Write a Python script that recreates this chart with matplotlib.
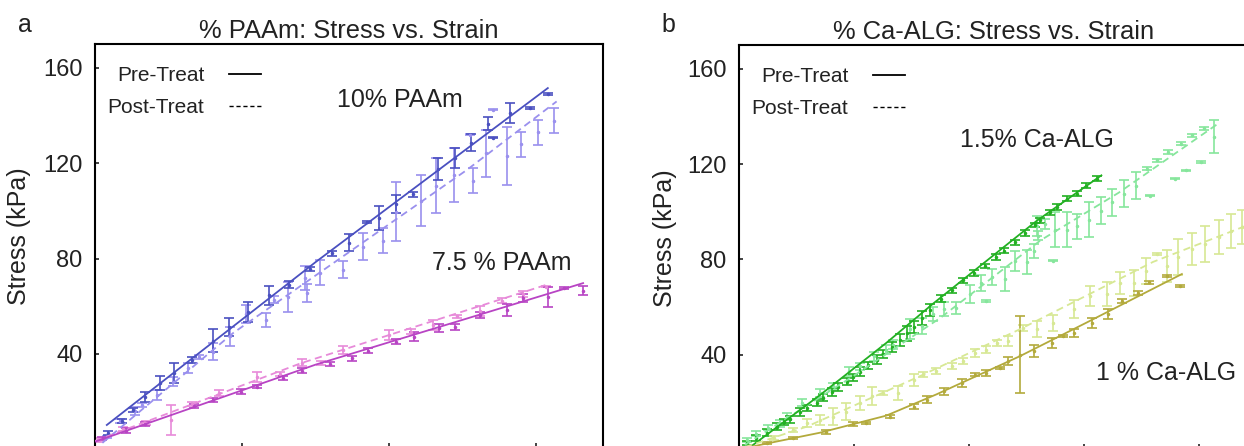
import matplotlib
matplotlib.use("Agg")
import matplotlib.pyplot as plt
from matplotlib.lines import Line2D

plt.rcParams['font.family'] = ['Liberation Sans', 'DejaVu Sans']

# ---- panel a : % PAAm ----
paam10_pre_x = [0.009, 0.018, 0.026, 0.034, 0.044, 0.054, 0.066, 0.080, 0.091, 0.104, 0.118, 0.132, 0.146,
                0.161, 0.173, 0.185, 0.193, 0.205, 0.216, 0.233, 0.245, 0.256, 0.267, 0.271, 0.282, 0.296, 0.308]
paam10_pre_y = [6.7, 11.9, 16.5, 22.1, 27.8, 31.9, 37.5, 45.6, 51.2, 57.6, 64.6, 69.0, 75.6,
                82.2, 86.6, 95.4, 97.0, 103.0, 107.0, 117.6, 122.2, 128.6, 136.6, 130.7, 141.0, 143.2, 149.0]
paam10_pre_e = [0.8, 0.8, 1.0, 2.1, 2.9, 4.2, 1.4, 5.0, 3.8, 4.1, 4.0, 1.4, 1.0,
                1.0, 3.5, 0.5, 4.9, 3.8, 1.0, 4.6, 4.2, 3.5, 2.7, 0.3, 4.3, 0.3, 0.3]
paam10_pre_fit_x = [0.008, 0.150, 0.308]
paam10_pre_fit_y = [10.2, 78.5, 151.5]

paam10_post_x = [0.008, 0.017, 0.027, 0.032, 0.042, 0.053, 0.063, 0.071, 0.080, 0.092, 0.103, 0.116, 0.122,
                 0.131, 0.143, 0.144, 0.153, 0.169, 0.182, 0.196, 0.205, 0.222, 0.232, 0.244, 0.257, 0.266,
                 0.280, 0.290, 0.301, 0.312, 0.271, 0.255]
paam10_post_y = [5.2, 12.0, 16.2, 18.6, 22.8, 28.4, 34.1, 38.7, 41.0, 47.5, 56.8, 54.3, 62.7,
                 64.0, 71.9, 65.7, 74.0, 75.3, 85.0, 87.5, 99.7, 104.3, 110.6, 115.1, 112.7, 124.2,
                 123.0, 128.0, 133.0, 137.9, 142.4, 132.0]
paam10_post_e = [0.5, 0.8, 1.7, 1.0, 2.1, 2.0, 2.0, 1.0, 3.5, 4.0, 3.9, 2.8, 1.5,
                 6.3, 4.9, 3.8, 5.2, 3.5, 5.6, 5.2, 12.5, 10.8, 11.5, 11.2, 5.2, 9.8,
                 12.0, 5.2, 5.2, 5.2, 0.3, 0.3]
paam10_post_fit_x = [0.005, 0.094, 0.253, 0.314]
paam10_post_fit_y = [2.7, 48.8, 117.2, 145.9]

paam75_pre_x = [0.0045, 0.021, 0.034, 0.067, 0.080, 0.099, 0.110, 0.128, 0.141, 0.160, 0.175, 0.186, 0.205,
                0.217, 0.234, 0.245, 0.262, 0.280, 0.291, 0.308, 0.319, 0.332]
paam75_pre_y = [4.6, 7.8, 10.6, 18.2, 20.7, 24.2, 26.3, 29.8, 33.0, 35.8, 38.2, 41.4, 45.2,
                47.3, 50.8, 51.2, 56.4, 58.5, 63.4, 64.0, 67.6, 66.6]
paam75_pre_e = [0.5, 1.0, 0.8, 1.0, 0.8, 1.0, 0.6, 0.8, 1.2, 0.8, 1.0, 1.0, 1.2,
                1.7, 1.7, 1.2, 1.3, 2.5, 1.7, 4.2, 0.3, 1.7]
paam75_pre_fit_x = [0.0, 0.150, 0.332]
paam75_pre_fit_y = [3.2, 35.5, 69.7]

paam75_post_x = [0.003, 0.019, 0.035, 0.052, 0.066, 0.084, 0.110, 0.126, 0.141, 0.154, 0.169, 0.200, 0.215,
                 0.230, 0.246, 0.262, 0.277, 0.291, 0.307]
paam75_post_y = [3.9, 8.5, 10.9, 12.3, 19.0, 23.5, 30.5, 31.6, 36.4, 36.1, 41.7, 48.0, 49.4,
                 52.2, 55.7, 57.8, 62.4, 65.2, 68.2]
paam75_post_e = [0.8, 0.8, 0.8, 6.3, 1.0, 1.2, 2.1, 0.8, 1.3, 0.8, 1.7, 2.1, 1.2,
                 2.1, 0.5, 2.1, 1.2, 1.3, 0.3]
paam75_post_fit_x = [0.0, 0.140, 0.307]
paam75_post_fit_y = [3.5, 36.1, 69.0]

# ---- panel b : % Ca-ALG ----
alg15_pre_x = [0.007, 0.015, 0.024, 0.033, 0.039, 0.044, 0.053, 0.059, 0.068, 0.073, 0.081, 0.086, 0.094,
               0.099, 0.105, 0.112, 0.120, 0.125, 0.133, 0.140, 0.146, 0.152, 0.159, 0.166, 0.176, 0.185,
               0.195, 0.204, 0.214, 0.223, 0.230, 0.240, 0.249, 0.257, 0.262, 0.270, 0.276, 0.285, 0.294,
               0.302, 0.311]
alg15_pre_y = [3.0, 5.2, 7.4, 9.8, 11.8, 13.0, 16.0, 17.6, 20.0, 22.0, 24.4, 26.5, 28.8,
               30.5, 33.0, 35.6, 38.0, 40.4, 43.2, 46.2, 49.0, 51.8, 55.5, 58.8, 63.5, 67.0,
               71.2, 74.3, 77.3, 80.9, 83.7, 87.2, 91.0, 94.5, 96.5, 99.8, 102.0, 105.5, 107.6,
               111.0, 113.9]
alg15_pre_e = [1.0, 1.2, 1.5, 1.5, 1.2, 1.5, 1.5, 1.2, 1.5, 1.5, 1.5, 1.8, 1.5,
               1.5, 1.8, 1.5, 2.0, 1.8, 2.0, 2.5, 3.0, 2.5, 3.0, 2.5, 1.5, 1.2,
               1.2, 1.2, 1.0, 1.2, 1.0, 1.0, 1.2, 1.0, 1.0, 1.0, 1.2, 1.0, 1.0,
               1.0, 1.0]
alg15_pre_fit_x = [0.006, 0.070, 0.128, 0.169, 0.227, 0.259, 0.315]
alg15_pre_fit_y = [0.0, 23.0, 45.0, 61.6, 84.0, 96.3, 115.3]

alg15_post_x = [0.007, 0.015, 0.025, 0.036, 0.042, 0.055, 0.070, 0.082, 0.096, 0.105, 0.117, 0.128, 0.134,
                0.149, 0.159, 0.169, 0.178, 0.189, 0.201, 0.210, 0.215, 0.220, 0.231, 0.240, 0.250, 0.256,
                0.260, 0.273, 0.259, 0.266, 0.275, 0.285, 0.294, 0.304, 0.315, 0.324, 0.335, 0.345,
                0.355, 0.363, 0.373, 0.384, 0.394, 0.404, 0.413, 0.357, 0.379, 0.389, 0.402]
alg15_post_y = [4.3, 7.0, 9.5, 11.3, 14.1, 20.0, 24.0, 26.8, 33.1, 35.2, 39.4, 42.2, 44.3,
                50.7, 52.0, 57.0, 59.1, 59.8, 65.4, 70.3, 62.6, 72.5, 71.7, 79.5, 78.8, 83.7,
                90.0, 79.5, 94.1, 94.9, 92.5, 92.5, 93.9, 96.7, 100.5, 104.0, 107.6, 111.0,
                118.1, 121.6, 125.1, 128.6, 132.1, 135.0, 131.5, 106.8, 113.9, 117.4, 120.9]
alg15_post_e = [1.0, 1.2, 1.2, 1.5, 1.5, 1.5, 1.5, 1.5, 1.8, 1.5, 2.0, 2.0, 2.0,
                4.2, 3.4, 3.0, 3.0, 2.5, 3.8, 3.4, 0.3, 3.4, 5.0, 4.2, 5.0, 3.0,
                2.0, 0.3, 4.3, 2.1, 7.3, 7.3, 5.3, 7.4, 5.6, 5.6, 5.6, 5.6,
                0.6, 0.7, 0.7, 0.7, 0.7, 0.7, 7.0, 0.3, 0.3, 0.3, 0.3]
alg15_post_fit_x = [0.005, 0.099, 0.175, 0.262, 0.330, 0.415]
alg15_post_fit_y = [2.2, 31.0, 55.5, 88.0, 108.0, 136.5]

alg1_pre_x = [0.024, 0.047, 0.076, 0.099, 0.110, 0.131, 0.152, 0.163, 0.178, 0.194, 0.205, 0.215, 0.227,
              0.234, 0.244, 0.256, 0.272, 0.282, 0.291, 0.307, 0.321, 0.333, 0.347, 0.356, 0.372, 0.383]
alg1_pre_y = [2.9, 5.0, 7.8, 11.0, 11.3, 14.1, 18.3, 21.2, 24.7, 28.2, 31.7, 32.4, 34.5,
              37.3, 40.1, 41.5, 45.0, 47.8, 49.3, 53.5, 57.0, 62.6, 66.1, 70.4, 73.1, 68.9]
alg1_pre_e = [0.5, 0.5, 0.8, 1.0, 0.5, 0.8, 1.0, 1.5, 1.5, 1.5, 0.5, 1.3, 0.5,
              1.7, 16.0, 2.5, 2.1, 0.5, 1.7, 2.1, 2.1, 0.8, 0.8, 0.5, 0.5, 0.3]
alg1_pre_fit_x = [0.0, 0.018, 0.070, 0.128, 0.172, 0.244, 0.302, 0.385]
alg1_pre_fit_y = [0.3, 2.2, 7.3, 14.5, 23.5, 39.4, 53.5, 73.9]

alg1_post_x = [0.030, 0.047, 0.059, 0.070, 0.082, 0.093, 0.105, 0.116, 0.125, 0.138, 0.152, 0.160, 0.171,
               0.185, 0.195, 0.205, 0.215, 0.224, 0.234, 0.247, 0.259, 0.273, 0.291, 0.305, 0.320, 0.331,
               0.343, 0.354, 0.363, 0.372, 0.382, 0.394, 0.405, 0.417, 0.428, 0.437]
alg1_post_y = [5.1, 8.5, 11.3, 12.7, 14.1, 16.2, 19.8, 22.6, 24.0, 24.0, 29.6, 31.7, 33.1,
               35.2, 37.3, 40.8, 42.2, 45.0, 45.7, 51.4, 50.7, 53.5, 59.1, 64.7, 65.4, 70.3,
               70.3, 75.2, 82.3, 77.3, 80.9, 84.4, 86.5, 89.3, 92.1, 93.5]
alg1_post_e = [0.8, 1.0, 1.7, 2.1, 3.4, 3.4, 3.0, 3.8, 1.0, 3.0, 2.5, 1.0, 1.3,
               1.3, 1.3, 1.5, 1.5, 1.3, 2.1, 1.3, 3.4, 3.4, 3.8, 4.2, 5.0, 4.6,
               5.5, 5.5, 0.3, 6.7, 7.6, 6.7, 7.6, 7.1, 7.1, 7.1]
alg1_post_fit_x = [0.0, 0.059, 0.157, 0.244, 0.360, 0.440]
alg1_post_fit_y = [0.5, 9.9, 31.0, 50.7, 79.0, 94.0]

strain_ticks = [0.1, 0.2, 0.3, 0.4]
stress_ticks = [40, 80, 120, 160]

c_paam10_pre, c_paam10_post = '#4a50c0', '#9a90ee'
c_paam75_pre, c_paam75_post = '#b844c4', '#e78ad9'
c_alg15_pre, c_alg15_post = '#22b022', '#86e69c'
c_alg1_pre, c_alg1_post = '#b3aa3c', '#d7e894'

text_col = '#222222'


def series(ax, x, y, e, fx, fy, col, dashed):
    ax.errorbar(x, y, yerr=e, fmt='.', ms=3, color=col, ecolor=col,
                elinewidth=1.2, capsize=3.5, capthick=1.2, zorder=2)
    ls = (0, (4, 2.5)) if dashed else '-'
    ax.plot(fx, fy, color=col, lw=1.3, ls=ls, zorder=3)


def style(ax, title, xmax):
    ax.set_xticks([t for t in strain_ticks if t <= xmax])
    ax.set_yticks(stress_ticks)
    ax.set_xlim(0, xmax)
    ax.set_ylim(0, 170)
    ax.tick_params(axis='both', direction='in', length=3, width=1.2,
                   labelsize=17, colors=text_col, pad=9)
    ax.tick_params(axis='x', length=4.5, labelbottom=False)
    for s in ax.spines.values():
        s.set_linewidth(1.5)
        s.set_color('black')
    ax.set_title(title, fontsize=18.4, color=text_col, pad=4.5)
    ax.set_ylabel('Stress (kPa)', fontsize=18, color=text_col)
    handles = [Line2D([], [], color='black', lw=1.3),
               Line2D([], [], color='black', lw=1.0, ls=(0, (3, 2)))]
    ax.legend(handles, ['Pre-Treat', 'Post-Treat'], loc='upper left',
              bbox_to_anchor=(-0.004, 0.982), markerfirst=False, frameon=False,
              fontsize=15, handlelength=1.5, handletextpad=1.2,
              labelspacing=0.64, borderpad=0.2, labelcolor=text_col)


fig = plt.figure(figsize=(12.44, 4.46), dpi=100)
ax1 = fig.add_axes([0.0764, -0.0074, 0.4084, 0.9088])
ax2 = fig.add_axes([0.5941, -0.0094, 0.4084, 0.9086])

series(ax1, paam10_post_x, paam10_post_y, paam10_post_e, paam10_post_fit_x, paam10_post_fit_y, c_paam10_post, True)
series(ax1, paam10_pre_x, paam10_pre_y, paam10_pre_e, paam10_pre_fit_x, paam10_pre_fit_y, c_paam10_pre, False)
series(ax1, paam75_post_x, paam75_post_y, paam75_post_e, paam75_post_fit_x, paam75_post_fit_y, c_paam75_post, True)
series(ax1, paam75_pre_x, paam75_pre_y, paam75_pre_e, paam75_pre_fit_x, paam75_pre_fit_y, c_paam75_pre, False)
style(ax1, '% PAAm: Stress vs. Strain', 0.3456)
ax1.yaxis.set_label_coords(-0.126, 0.526)
ax1.text(0.600, 0.862, '10% PAAm', transform=ax1.transAxes, ha='center', va='center',
         fontsize=18, color=text_col)
ax1.text(0.801, 0.460, '7.5 % PAAm', transform=ax1.transAxes, ha='center', va='center',
         fontsize=18, color=text_col)

series(ax2, alg15_post_x, alg15_post_y, alg15_post_e, alg15_post_fit_x, alg15_post_fit_y, c_alg15_post, True)
series(ax2, alg15_pre_x, alg15_pre_y, alg15_pre_e, alg15_pre_fit_x, alg15_pre_fit_y, c_alg15_pre, False)
series(ax2, alg1_post_x, alg1_post_y, alg1_post_e, alg1_post_fit_x, alg1_post_fit_y, c_alg1_post, True)
series(ax2, alg1_pre_x, alg1_pre_y, alg1_pre_e, alg1_pre_fit_x, alg1_pre_fit_y, c_alg1_pre, False)
style(ax2, '% Ca-ALG: Stress vs. Strain', 0.4417)
ax2.yaxis.set_label_coords(-0.122, 0.524)
ax2.text(0.587, 0.766, '1.5% Ca-ALG', transform=ax2.transAxes, ha='center', va='center',
         fontsize=18, color=text_col)
ax2.text(0.841, 0.191, '1 % Ca-ALG', transform=ax2.transAxes, ha='center', va='center',
         fontsize=18, color=text_col)

fig.text(0.0145, 1 - 32 / 446, 'a', fontsize=18, color=text_col)
fig.text(0.532, 1 - 32 / 446, 'b', fontsize=18, color=text_col)

fig.savefig('out.png', dpi=100)
